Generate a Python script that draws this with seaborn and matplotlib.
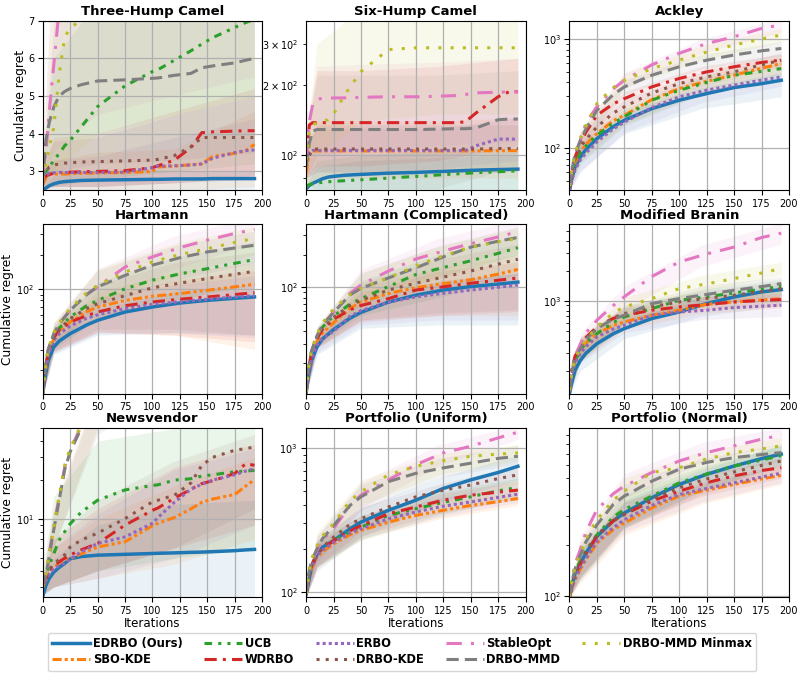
import matplotlib
matplotlib.use("Agg")
import matplotlib.pyplot as plt
from matplotlib.lines import Line2D
import pandas as pd
import seaborn as sns

METHODS = ["EDRBO (Ours)", "SBO-KDE", "UCB", "WDRBO", "ERBO", "DRBO-KDE",
           "StableOpt", "DRBO-MMD", "DRBO-MMD Minmax"]
COLORS = ["#1f77b4", "#ff7f0e", "#2ca02c", "#d62728", "#9467bd", "#8c564b",
          "#e377c2", "#7f7f7f", "#bcbd22"]
DASHES = ["", (3, 1, 1, 1, 1, 1), (2.5, 2, 1, 2, 1, 2), (4, 2, 1, 2), (1, 1),
          (1, 2), (5, 3, 1, 3), (4, 2), (1, 3)]
WIDTHS = [2.5, 2.2, 2.2, 2.2, 2.2, 2.2, 2.2, 2.2, 2.2]

X_STEP = [0, 3, 6, 10, 15, 20, 25, 35, 50, 75, 100, 105, 120, 135, 145, 155, 175, 185, 193]
X_SMOOTH = [0, 2, 5, 10, 15, 25, 40, 50, 75, 100, 125, 150, 175, 193]
X_BAND = [0, 10, 50, 120, 193]

THREE_HUMP = {
    "EDRBO (Ours)": [2.50, 2.56, 2.62, 2.67, 2.71, 2.73, 2.74, 2.76, 2.77, 2.78, 2.79, 2.79, 2.80, 2.80, 2.80, 2.81, 2.81, 2.81, 2.81],
    "SBO-KDE": [2.65, 2.85, 2.93, 2.93, 2.93, 2.93, 2.94, 2.95, 2.96, 2.97, 3.00, 3.12, 3.14, 3.18, 3.20, 3.40, 3.48, 3.55, 3.72],
    "UCB": [2.90, 3.00, 3.10, 3.30, 3.47, 3.68, 3.82, 4.18, 4.72, 5.27, 5.65, 5.70, 5.95, 6.20, 6.38, 6.55, 6.82, 6.95, 7.04],
    "WDRBO": [2.80, 2.88, 2.92, 2.95, 2.97, 2.98, 2.98, 2.99, 3.00, 3.02, 3.10, 3.15, 3.30, 3.63, 4.03, 4.05, 4.07, 4.08, 4.08],
    "ERBO": [2.80, 2.90, 2.95, 2.96, 2.97, 2.97, 2.97, 2.97, 2.97, 2.98, 3.10, 3.14, 3.15, 3.17, 3.20, 3.35, 3.50, 3.55, 3.57],
    "DRBO-KDE": [2.85, 3.00, 3.12, 3.17, 3.20, 3.22, 3.23, 3.25, 3.26, 3.28, 3.30, 3.32, 3.42, 3.65, 3.90, 3.90, 3.90, 3.90, 3.90],
    "StableOpt": [2.70, 3.50, 4.60, 5.80, 7.30, 8.50, 9.50, 11.0, 13.0, 16.0, 19.0, 19.5, 21.0, 23.0, 24.0, 25.0, 27.0, 28.0, 29.0],
    "DRBO-MMD": [2.70, 3.85, 4.30, 4.70, 5.00, 5.12, 5.20, 5.30, 5.40, 5.43, 5.47, 5.48, 5.55, 5.60, 5.75, 5.80, 5.88, 5.95, 6.00],
    "DRBO-MMD Minmax": [2.80, 3.20, 3.65, 4.15, 5.57, 6.55, 6.82, 7.00, 7.40, 8.00, 8.50, 8.60, 8.90, 9.20, 9.40, 9.50, 9.80, 9.90, 10.0],
}
THREE_HUMP_LO = {
    "EDRBO (Ours)": [2.5, 2.5, 2.5, 2.5, 2.5], "SBO-KDE": [2.5, 2.5, 2.5, 2.5, 2.6],
    "UCB": [2.6, 2.6, 2.8, 3.0, 3.2], "WDRBO": [2.5, 2.6, 2.6, 2.7, 2.9],
    "ERBO": [2.6, 2.6, 2.6, 2.7, 2.8], "DRBO-KDE": [2.6, 2.6, 2.6, 2.7, 2.8],
    "StableOpt": [2.6, 3.5, 4.5, 5.0, 5.5], "DRBO-MMD": [2.6, 3.0, 3.2, 3.3, 3.5],
    "DRBO-MMD Minmax": [2.6, 3.0, 4.0, 4.5, 5.0],
}
THREE_HUMP_HI = {
    "EDRBO (Ours)": [2.6, 2.9, 3.0, 3.0, 3.0], "SBO-KDE": [2.9, 3.3, 3.5, 3.6, 4.6],
    "UCB": [3.2, 6.0, 7.5, 9.0, 11.0], "WDRBO": [3.0, 3.9, 4.0, 4.6, 5.2],
    "ERBO": [3.0, 3.3, 3.4, 3.9, 4.4], "DRBO-KDE": [3.2, 3.8, 3.9, 4.5, 5.0],
    "StableOpt": [3.2, 9.0, 15.0, 20.0, 30.0], "DRBO-MMD": [3.0, 7.0, 7.5, 8.0, 8.5],
    "DRBO-MMD Minmax": [3.2, 9.0, 14.0, 17.0, 20.0],
}

SIX_HUMP = {
    "EDRBO (Ours)": [72, 74.5, 76, 77.5, 79.5, 80.8, 81.4, 82.3, 83, 84, 84.6, 84.8, 85.3, 85.8, 86.2, 86.5, 87, 87.2, 87.4],
    "SBO-KDE": [84, 103, 104.5, 104.5, 104.5, 104.5, 104.5, 104.5, 104.5, 104.5, 104.5, 104.5, 104.5, 104.5, 104.5, 104.6, 104.7, 104.8, 104.8],
    "UCB": [73.8, 75, 75.8, 76.2, 76.8, 77.2, 77.5, 78, 78.7, 80, 81.4, 81.6, 82.5, 83.3, 83.8, 84.4, 85.2, 85.6, 86],
    "WDRBO": [99, 135, 138, 138, 138, 138, 138, 138, 138, 138, 138, 138, 138, 138, 139, 152, 178, 187, 187],
    "ERBO": [95, 103, 105, 105, 105, 105, 105, 105, 105, 105, 105, 105, 105, 105, 105, 110, 117.4, 117.4, 117.4],
    "DRBO-KDE": [92, 100, 106, 106.5, 106.5, 106.5, 106.5, 106.5, 106.5, 106.5, 106.5, 106.5, 106.5, 106.5, 106.5, 106.5, 107, 107, 107],
    "StableOpt": [99, 140, 165, 174, 175, 175, 176, 176, 177, 178, 178, 178, 179, 180, 182, 185, 186, 187, 187],
    "DRBO-MMD": [90, 113, 127, 129, 129, 129, 129, 129, 129, 129, 129, 129, 129.5, 130, 130, 131, 142, 143, 143],
    "DRBO-MMD Minmax": [96, 125, 135, 138, 140, 142, 150, 181, 228, 283, 288, 288, 288, 288, 288, 288, 288, 288, 288],
}
SIX_HUMP_LO = {
    "EDRBO (Ours)": [71, 71, 71, 71, 71], "SBO-KDE": [75, 80, 80, 80, 80],
    "UCB": [71, 71, 71, 71, 71], "WDRBO": [80, 90, 90, 95, 110],
    "ERBO": [80, 85, 85, 88, 95], "DRBO-KDE": [80, 85, 85, 85, 85],
    "StableOpt": [80, 100, 105, 110, 115], "DRBO-MMD": [75, 72, 72, 72, 90],
    "DRBO-MMD Minmax": [80, 100, 140, 150, 150],
}
SIX_HUMP_HI = {
    "EDRBO (Ours)": [75, 90, 95, 98, 100], "SBO-KDE": [100, 140, 140, 140, 145],
    "UCB": [78, 95, 100, 105, 108], "WDRBO": [120, 230, 230, 240, 260],
    "ERBO": [110, 130, 130, 130, 145], "DRBO-KDE": [110, 135, 135, 135, 135],
    "StableOpt": [130, 240, 245, 250, 260], "DRBO-MMD": [110, 220, 220, 220, 230],
    "DRBO-MMD Minmax": [120, 300, 420, 420, 420],
}

ACKLEY = {
    "EDRBO (Ours)": [41, 52, 67, 83, 97, 122, 157, 180, 230, 275, 316, 359, 390, 419],
    "SBO-KDE": [42, 55, 73, 93, 108, 136, 178, 200, 278, 351, 410, 466, 540, 596],
    "UCB": [42, 55, 72, 92, 105, 131, 170, 193, 275, 339, 400, 466, 505, 536],
    "WDRBO": [43, 60, 82, 112, 140, 200, 255, 284, 364, 435, 500, 557, 610, 641],
    "ERBO": [41, 50, 63, 78, 90, 114, 150, 173, 235, 295, 340, 378, 420, 450],
    "DRBO-KDE": [43, 58, 78, 102, 120, 156, 210, 239, 320, 390, 450, 500, 580, 641],
    "StableOpt": [44, 63, 88, 118, 170, 240, 350, 420, 580, 741, 910, 1050, 1253, 1350],
    "DRBO-MMD": [44, 62, 86, 118, 150, 222, 310, 364, 466, 557, 640, 714, 780, 820],
    "DRBO-MMD Minmax": [45, 64, 90, 124, 160, 256, 360, 419, 536, 641, 760, 882, 1000, 1090],
}
ACKLEY_LO = {
    "EDRBO (Ours)": [40, 62, 135, 230, 295], "SBO-KDE": [41, 75, 165, 320, 480],
    "UCB": [41, 72, 160, 310, 440], "WDRBO": [42, 90, 240, 420, 560],
    "ERBO": [40, 60, 140, 260, 370], "DRBO-KDE": [42, 82, 200, 370, 540],
    "StableOpt": [43, 95, 350, 740, 1150], "DRBO-MMD": [43, 95, 310, 530, 700],
    "DRBO-MMD Minmax": [44, 100, 360, 640, 940],
}
ACKLEY_HI = {
    "EDRBO (Ours)": [43, 100, 215, 360, 490], "SBO-KDE": [44, 112, 240, 460, 700],
    "UCB": [44, 110, 230, 440, 620], "WDRBO": [45, 135, 330, 560, 730],
    "ERBO": [43, 95, 205, 380, 530], "DRBO-KDE": [45, 125, 280, 500, 750],
    "StableOpt": [46, 145, 490, 1000, 1550], "DRBO-MMD": [46, 140, 420, 720, 950],
    "DRBO-MMD Minmax": [47, 150, 480, 870, 1250],
}

HARTMANN = {
    "EDRBO (Ours)": [12.4, 17, 24, 31.5, 35.5, 41.2, 49, 53.8, 63.5, 70.2, 76, 80.2, 83.5, 85.8],
    "SBO-KDE": [12.6, 18.5, 27.5, 37, 43, 52, 64, 70, 80, 87, 92, 98, 105, 110.5],
    "UCB": [12.6, 19, 29, 39, 46, 57.5, 72, 80, 101, 120, 136, 151, 168, 181],
    "WDRBO": [12.6, 19, 28, 38, 44, 52, 59, 63.5, 72, 77.6, 82, 85.8, 90, 93.5],
    "ERBO": [12.5, 18, 27, 36, 41, 48, 56, 60, 68, 74, 78, 82, 86, 88],
    "DRBO-KDE": [12.6, 19, 28, 38, 45, 55.6, 68, 75, 88, 103, 113, 124, 135, 143],
    "StableOpt": [12.7, 20, 30, 41, 50, 66, 90, 105, 156, 191, 230, 267, 305, 330],
    "DRBO-MMD": [12.7, 20, 30, 41, 50, 65.6, 90, 105, 132, 162, 188, 211, 228, 241],
    "DRBO-MMD Minmax": [12.7, 20, 30, 42, 51, 68, 93, 108, 141, 173, 200, 225, 255, 276],
}
HARTMANN_LO = {
    "EDRBO (Ours)": [12, 27, 40, 42, 40], "SBO-KDE": [12, 28, 43, 40, 30],
    "UCB": [12, 30, 55, 80, 110], "WDRBO": [12, 29, 42, 40, 35],
    "ERBO": [12, 28, 42, 42, 38], "DRBO-KDE": [12, 29, 45, 45, 40],
    "StableOpt": [12, 32, 72, 150, 250], "DRBO-MMD": [12, 32, 70, 120, 170],
    "DRBO-MMD Minmax": [12, 32, 75, 130, 200],
}
HARTMANN_HI = {
    "EDRBO (Ours)": [13, 36, 68, 95, 110], "SBO-KDE": [13, 45, 95, 140, 170],
    "UCB": [13, 48, 115, 190, 260], "WDRBO": [13, 46, 85, 120, 145],
    "ERBO": [13, 42, 80, 110, 130], "DRBO-KDE": [13, 47, 110, 170, 210],
    "StableOpt": [13, 51, 150, 290, 420], "DRBO-MMD": [13, 50, 145, 240, 320],
    "DRBO-MMD Minmax": [13, 52, 150, 250, 350],
}

HARTMANN_C = {
    "EDRBO (Ours)": [10.5, 15, 21.2, 28.4, 33.5, 40.8, 52, 58.8, 73.1, 84.6, 94.3, 101.5, 107, 111.5],
    "SBO-KDE": [10.7, 16, 24, 32, 38, 47.2, 64, 73.1, 87.7, 99.3, 108, 117.4, 132, 146],
    "UCB": [10.8, 17, 25.5, 35, 43, 54.6, 70, 78.6, 101.5, 131, 152, 175, 205, 231],
    "WDRBO": [10.8, 17, 25, 34, 41, 50.8, 62, 68, 78.6, 94.3, 101, 109, 116, 121.7],
    "ERBO": [10.6, 15.5, 22, 29.5, 34, 39.4, 54, 60.9, 73, 81.5, 88, 94.3, 100, 105],
    "DRBO-KDE": [10.8, 17, 25, 34, 42, 52.7, 68, 75.8, 94.3, 109, 124, 141, 163, 181],
    "StableOpt": [10.9, 17.5, 26, 36, 45, 58.8, 88, 105, 141, 182, 215, 252, 290, 325],
    "DRBO-MMD": [10.9, 17.5, 26, 36, 45, 58.8, 85, 97.8, 121.7, 151, 190, 234, 265, 287],
    "DRBO-MMD Minmax": [10.9, 18, 27, 37, 47, 63.2, 86, 97.8, 122, 157, 195, 234, 262, 281],
}
HARTMANN_C_LO = {
    "EDRBO (Ours)": [10.4, 24, 42, 45, 45], "SBO-KDE": [10.4, 27, 50, 55, 55],
    "UCB": [10.4, 29, 55, 80, 130], "WDRBO": [10.4, 28, 48, 55, 60],
    "ERBO": [10.4, 25, 45, 50, 50], "DRBO-KDE": [10.4, 28, 50, 58, 62],
    "StableOpt": [10.4, 30, 75, 140, 230], "DRBO-MMD": [10.4, 30, 70, 120, 200],
    "DRBO-MMD Minmax": [10.4, 31, 70, 125, 200],
}
HARTMANN_C_HI = {
    "EDRBO (Ours)": [11, 33, 72, 115, 135], "SBO-KDE": [11, 38, 100, 150, 200],
    "UCB": [11, 42, 115, 200, 300], "WDRBO": [11, 41, 90, 140, 170],
    "ERBO": [11, 35, 78, 110, 135], "DRBO-KDE": [11, 41, 110, 180, 250],
    "StableOpt": [11, 43, 145, 280, 420], "DRBO-MMD": [11, 43, 135, 240, 360],
    "DRBO-MMD Minmax": [11, 44, 135, 235, 350],
}

BRANIN = {
    "EDRBO (Ours)": [118, 150, 203, 255, 300, 374, 470, 529, 666, 776, 940, 1096, 1230, 1298],
    "SBO-KDE": [125, 180, 250, 320, 380, 471, 570, 617, 719, 807, 926, 977, 1020, 1055],
    "UCB": [125, 180, 250, 320, 380, 471, 610, 692, 838, 1015, 1100, 1202, 1310, 1401],
    "WDRBO": [130, 200, 280, 347, 430, 550, 670, 719, 807, 871, 919, 977, 1010, 1031],
    "ERBO": [125, 175, 240, 300, 350, 436, 525, 571, 719, 776, 807, 858, 885, 905],
    "DRBO-KDE": [130, 195, 270, 340, 420, 529, 680, 747, 871, 977, 1060, 1139, 1240, 1328],
    "StableOpt": [130, 200, 280, 374, 480, 641, 900, 1100, 1750, 2450, 2950, 3450, 4300, 4750],
    "DRBO-MMD": [128, 190, 265, 335, 410, 529, 660, 719, 940, 1055, 1160, 1278, 1390, 1490],
    "DRBO-MMD Minmax": [128, 190, 265, 335, 410, 550, 760, 871, 1055, 1328, 1480, 1671, 1900, 2105],
}
BRANIN_LO = {
    "EDRBO (Ours)": [115, 200, 420, 700, 900], "SBO-KDE": [120, 250, 520, 750, 850],
    "UCB": [120, 250, 560, 900, 1150], "WDRBO": [125, 270, 600, 820, 880],
    "ERBO": [120, 240, 480, 650, 700], "DRBO-KDE": [125, 260, 600, 880, 1100],
    "StableOpt": [125, 290, 800, 2200, 3700], "DRBO-MMD": [122, 260, 580, 950, 1250],
    "DRBO-MMD Minmax": [122, 260, 700, 1250, 1800],
}
BRANIN_HI = {
    "EDRBO (Ours)": [122, 310, 640, 1100, 1450], "SBO-KDE": [130, 400, 740, 1100, 1300],
    "UCB": [130, 400, 850, 1300, 1650], "WDRBO": [135, 440, 850, 1100, 1200],
    "ERBO": [130, 370, 680, 1000, 1150], "DRBO-KDE": [135, 430, 900, 1250, 1550],
    "StableOpt": [135, 480, 1400, 3600, 6000], "DRBO-MMD": [133, 420, 880, 1400, 1750],
    "DRBO-MMD Minmax": [133, 420, 1080, 1800, 2450],
}

NEWSVENDOR = {
    "EDRBO (Ours)": [2.53, 3.1, 3.5, 3.9, 4.25, 4.56, 4.95, 5.15, 5.28, 5.36, 5.44, 5.46, 5.5, 5.55, 5.58, 5.62, 5.72, 5.8, 5.85],
    "SBO-KDE": [3.0, 3.4, 3.8, 4.2, 4.6, 4.84, 4.95, 5.4, 6.1, 6.7, 8.9, 9.3, 10.3, 12.0, 13.5, 14.3, 15.5, 18.0, 20.2],
    "UCB": [3.2, 3.7, 4.4, 5.4, 6.9, 8.0, 9.2, 11.3, 14.0, 16.8, 18.2, 18.4, 20.0, 20.5, 21.5, 22.0, 23.2, 23.5, 23.8],
    "WDRBO": [3.0, 3.5, 3.9, 4.3, 4.7, 5.0, 5.3, 5.8, 6.5, 9.0, 11.7, 12.2, 14.5, 17.0, 18.8, 19.8, 22.5, 26.8, 26.0],
    "ERBO": [3.0, 3.4, 3.8, 4.1, 4.4, 4.6, 4.9, 5.6, 6.5, 7.3, 9.3, 10.3, 13.5, 17.0, 18.6, 20.0, 22.0, 23.5, 24.5],
    "DRBO-KDE": [3.1, 3.6, 4.1, 4.5, 4.9, 5.3, 6.1, 6.9, 7.8, 10.1, 13.6, 14.0, 15.3, 19.0, 26.0, 30.0, 34.0, 35.0, 36.0],
    "StableOpt": [3.0, 3.8, 5.5, 8.7, 14.8, 25.0, 34.0, 52.0, 75.0, 120, 160, 170, 195, 220, 235, 250, 280, 295, 305],
    "DRBO-MMD": [3.0, 3.7, 5.2, 8.2, 14.0, 24.0, 33.0, 50.0, 72.0, 110, 150, 158, 180, 205, 220, 235, 265, 280, 290],
    "DRBO-MMD Minmax": [3.0, 3.8, 5.4, 8.5, 15.0, 26.0, 35.0, 53.0, 78.0, 125, 165, 172, 200, 225, 240, 255, 285, 300, 310],
}
NEWSVENDOR_LO = {
    "EDRBO (Ours)": [2.5, 2.5, 2.5, 2.5, 2.5], "SBO-KDE": [2.6, 3.0, 3.5, 4.5, 7.0],
    "UCB": [2.6, 3.0, 4.0, 5.0, 6.0], "WDRBO": [2.6, 3.0, 4.0, 6.0, 9.0],
    "ERBO": [2.6, 3.0, 3.5, 5.0, 9.0], "DRBO-KDE": [2.7, 3.0, 4.0, 6.0, 12.0],
    "StableOpt": [2.7, 6.0, 50, 110, 200], "DRBO-MMD": [2.7, 6.0, 45, 100, 190],
    "DRBO-MMD Minmax": [2.7, 6.0, 50, 110, 200],
}
NEWSVENDOR_HI = {
    "EDRBO (Ours)": [2.8, 5.0, 9.0, 13.0, 14.0], "SBO-KDE": [3.5, 6.0, 10.0, 18.0, 30.0],
    "UCB": [4.0, 15.0, 40.0, 50.0, 55.0], "WDRBO": [3.6, 7.0, 12.0, 25.0, 38.0],
    "ERBO": [3.5, 6.0, 11.0, 24.0, 35.0], "DRBO-KDE": [3.6, 7.0, 14.0, 28.0, 45.0],
    "StableOpt": [3.5, 12.0, 100, 220, 420], "DRBO-MMD": [3.5, 11.0, 95, 210, 400],
    "DRBO-MMD Minmax": [3.5, 12.0, 105, 230, 430],
}

PORT_UNIFORM = {
    "EDRBO (Ours)": [96, 115, 147.5, 183, 205, 227, 275, 306, 370, 435, 525, 602, 678, 749],
    "SBO-KDE": [95, 120, 145, 174, 190, 216, 250, 268, 306, 341, 370, 400, 425, 447],
    "UCB": [96, 125, 155, 185, 200, 227, 262, 282, 341, 380, 420, 459, 505, 534],
    "WDRBO": [96, 122, 152, 182, 200, 227, 266, 289, 350, 390, 435, 471, 495, 511],
    "ERBO": [95, 120, 148, 180, 195, 221, 257, 275, 323, 360, 395, 423, 455, 479],
    "DRBO-KDE": [96, 122, 152, 185, 205, 240, 295, 323, 390, 459, 510, 555, 615, 653],
    "StableOpt": [97, 128, 160, 195, 230, 275, 400, 472, 602, 767, 928, 1033, 1180, 1294],
    "DRBO-MMD": [97, 130, 165, 200, 235, 289, 400, 459, 586, 669, 730, 787, 850, 880],
    "DRBO-MMD Minmax": [97, 130, 170, 210, 245, 298, 430, 498, 653, 749, 820, 880, 910, 928],
}
PORT_UNIFORM_LO = {
    "EDRBO (Ours)": [92, 140, 240, 420, 600], "SBO-KDE": [92, 145, 230, 320, 400],
    "UCB": [92, 150, 230, 340, 460], "WDRBO": [92, 150, 245, 350, 440],
    "ERBO": [92, 150, 235, 330, 420], "DRBO-KDE": [92, 150, 265, 410, 560],
    "StableOpt": [93, 160, 380, 750, 1150], "DRBO-MMD": [93, 160, 370, 620, 780],
    "DRBO-MMD Minmax": [93, 170, 400, 650, 820],
}
PORT_UNIFORM_HI = {
    "EDRBO (Ours)": [100, 230, 380, 620, 900], "SBO-KDE": [100, 205, 310, 420, 500],
    "UCB": [100, 225, 340, 490, 620], "WDRBO": [100, 220, 340, 480, 590],
    "ERBO": [100, 215, 320, 450, 550], "DRBO-KDE": [100, 225, 390, 560, 760],
    "StableOpt": [102, 245, 580, 1050, 1450], "DRBO-MMD": [102, 245, 560, 850, 1050],
    "DRBO-MMD Minmax": [102, 260, 600, 920, 1060],
}

PORT_NORMAL = {
    "EDRBO (Ours)": [99, 115, 136.5, 156.6, 180, 226, 280, 311, 383, 459, 527, 590, 653, 694],
    "SBO-KDE": [99, 110, 125, 145, 165, 206, 248, 271, 333, 392, 425, 459, 495, 520],
    "UCB": [99, 118, 140, 163, 185, 231, 295, 326, 392, 469, 530, 590, 640, 680],
    "WDRBO": [99, 113, 132, 155, 178, 226, 280, 305, 366, 419, 470, 516, 555, 577],
    "ERBO": [99, 110, 127, 148, 168, 211, 255, 284, 345, 400, 435, 469, 508, 535],
    "DRBO-KDE": [99, 115, 135, 158, 182, 231, 280, 305, 375, 439, 495, 544, 595, 632],
    "StableOpt": [100, 125, 155, 190, 240, 326, 405, 449, 540, 632, 709, 777, 850, 900],
    "DRBO-MMD": [100, 120, 145, 175, 210, 265, 350, 392, 480, 565, 620, 662, 690, 709],
    "DRBO-MMD Minmax": [100, 122, 150, 180, 220, 284, 370, 419, 540, 577, 650, 709, 745, 777],
}
PORT_NORMAL_LO = {
    "EDRBO (Ours)": [98, 130, 260, 420, 600], "SBO-KDE": [98, 120, 230, 350, 460],
    "UCB": [98, 125, 250, 420, 590], "WDRBO": [98, 130, 255, 390, 500],
    "ERBO": [98, 125, 240, 360, 470], "DRBO-KDE": [98, 130, 255, 400, 550],
    "StableOpt": [98, 155, 380, 620, 800], "DRBO-MMD": [98, 150, 330, 510, 630],
    "DRBO-MMD Minmax": [98, 150, 350, 550, 690],
}
PORT_NORMAL_HI = {
    "EDRBO (Ours)": [101, 185, 370, 560, 790], "SBO-KDE": [101, 170, 320, 460, 590],
    "UCB": [101, 200, 400, 580, 780], "WDRBO": [101, 185, 360, 520, 660],
    "ERBO": [101, 175, 330, 470, 600], "DRBO-KDE": [101, 190, 360, 540, 720],
    "StableOpt": [102, 230, 530, 810, 1000], "DRBO-MMD": [102, 205, 460, 650, 800],
    "DRBO-MMD Minmax": [102, 215, 500, 720, 870],
}

PANELS = [
    ("Three-Hump Camel", X_STEP, THREE_HUMP, THREE_HUMP_LO, THREE_HUMP_HI, "linear", (2.5, 7.0)),
    ("Six-Hump Camel", X_STEP, SIX_HUMP, SIX_HUMP_LO, SIX_HUMP_HI, "log", (71, 376)),
    ("Ackley", X_SMOOTH, ACKLEY, ACKLEY_LO, ACKLEY_HI, "log", (41, 1475)),
    ("Hartmann", X_SMOOTH, HARTMANN, HARTMANN_LO, HARTMANN_HI, "log", (12.4, 367)),
    ("Hartmann (Complicated)", X_SMOOTH, HARTMANN_C, HARTMANN_C_LO, HARTMANN_C_HI, "log", (10.5, 380)),
    ("Modified Branin", X_SMOOTH, BRANIN, BRANIN_LO, BRANIN_HI, "log", (118, 5843)),
    ("Newsvendor", X_STEP, NEWSVENDOR, NEWSVENDOR_LO, NEWSVENDOR_HI, "log", (2.5, 50.7)),
    ("Portfolio (Uniform)", X_SMOOTH, PORT_UNIFORM, PORT_UNIFORM_LO, PORT_UNIFORM_HI, "log", (91.7, 1390)),
    ("Portfolio (Normal)", X_SMOOTH, PORT_NORMAL, PORT_NORMAL_LO, PORT_NORMAL_HI, "log", (98.5, 995)),
]

palette = dict(zip(METHODS, COLORS))
dash_map = dict(zip(METHODS, DASHES))
size_map = dict(zip(METHODS, WIDTHS))

fig, axes = plt.subplots(3, 3, figsize=(8.04, 6.8), dpi=100)
fig.subplots_adjust(left=0.0531, right=0.9813, top=0.9696, bottom=0.1216,
                    wspace=0.2, hspace=0.2)

for idx, (ax, (title, xs, means, lo, hi, scale, ylim)) in enumerate(zip(axes.flat, PANELS)):
    rows = []
    for m in METHODS:
        for x, y in zip(xs, means[m]):
            rows.append((m, x, y))
    df = pd.DataFrame(rows, columns=["method", "Iterations", "regret"])
    if scale == "log":
        ax.set_yscale("log")
    for m in METHODS:
        ax.fill_between(X_BAND, lo[m], hi[m], color=palette[m], alpha=0.09, linewidth=0)
    sns.lineplot(data=df, x="Iterations", y="regret", hue="method", style="method",
                 size="method", hue_order=METHODS, style_order=METHODS,
                 size_order=METHODS, palette=palette, dashes=dash_map, sizes=size_map,
                 estimator=None, legend=False, ax=ax)
    ax.set_xlim(0, 200)
    ax.set_ylim(*ylim)
    ax.set_xticks(range(0, 201, 25))
    if scale == "linear":
        ax.set_yticks([3, 4, 5, 6, 7])
    ax.grid(True, which="major", color="#b0b0b0", linewidth=0.9)
    ax.set_title(title, fontsize=9.5, fontweight="bold", pad=4)
    ax.tick_params(axis="both", which="both", labelsize=7)
    ax.tick_params(axis="x", which="major", pad=2.5)
    ax.tick_params(axis="y", which="major", pad=2.5)
    r, c = divmod(idx, 3)
    if c == 0:
        ax.set_ylabel("Cumulative regret", fontsize=8.8)
        ax.yaxis.set_label_coords(-0.071 if r == 0 else -0.13, 0.5)
    else:
        ax.set_ylabel("")
    if r == 2:
        ax.set_xlabel("Iterations", fontsize=8.5, labelpad=1)
    else:
        ax.set_xlabel("")

handles = []
for m, col, d, w in zip(METHODS, COLORS, DASHES, WIDTHS):
    if d == "":
        handles.append(Line2D([0], [0], color=col, lw=w, linestyle="-"))
    else:
        handles.append(Line2D([0], [0], color=col, lw=w, dashes=d))
fig.legend(handles, METHODS, loc="lower center", bbox_to_anchor=(0.5, 0.005), ncol=5,
           prop={"weight": "bold", "size": 8.3}, handlelength=3.3, handletextpad=0.2,
           columnspacing=1.9, labelspacing=0.25, borderpad=0.4, frameon=True)

fig.savefig("out.png", dpi=100)
